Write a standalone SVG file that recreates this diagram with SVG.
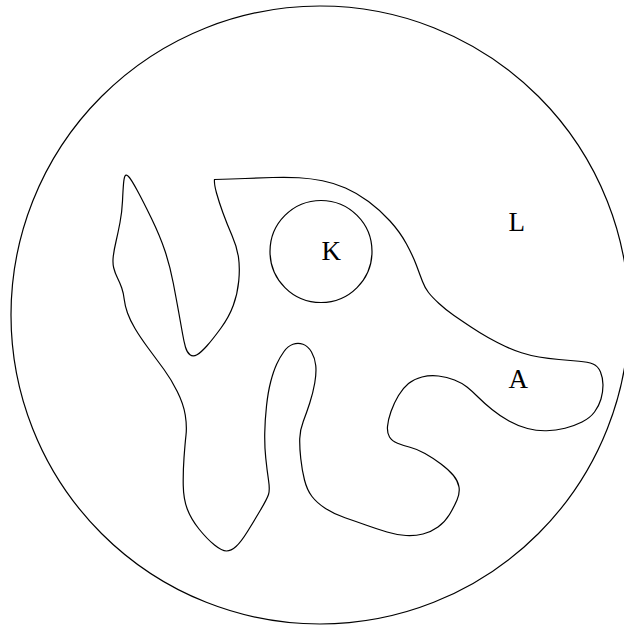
<svg xmlns="http://www.w3.org/2000/svg" width="624" height="627" viewBox="0 0 624 627">
<style>
.shape{fill:none;stroke:#000;stroke-width:1.2}
.lbl{font-family:"Liberation Serif","Times New Roman",serif;font-size:27px;fill:#000}
</style>
<rect width="624" height="627" fill="#fff"/>
<g id="region-L">
<circle class="shape" cx="320" cy="315" r="309"/>
<text class="lbl" x="508.5" y="231">L</text>
</g>
<g id="region-A">
<path class="shape" d="M214.5 179.5 Q232 179 245 178.5 Q258 178 272.5 177.5 Q287 177 299 177.75 Q311 178.5 322.5 180.75 Q334 183 345.5 188 Q357 193 368.5 201.5 Q380 210 390 221 Q400 232 406.5 244 Q413 256 416.5 265.5 Q420 275 422.5 281.5 Q425 288 428.5 292.5 Q432 297 439 303.5 Q446 310 454 315.5 Q462 321 471 327 Q480 333 488.5 337.75 Q497 342.5 505 346.25 Q513 350 521.5 352.75 Q530 355.5 539 357 Q548 358.5 559 359.5 Q570 360.5 579 361.25 Q588 362 593 364 Q598 366 600.5 372 Q603 378 603 385 Q603 392 601 399 Q599 406 594.5 412 Q590 418 582 422 Q574 426 565 428.25 Q556 430.5 546.5 430.75 Q537 431 527.5 428.5 Q518 426 509 421 Q500 416 492 409.5 Q484 403 478 397 Q472 391 467 387 Q462 383 454.5 380 Q447 377 438.5 376 Q430 375 422 377 Q414 379 408.5 383.5 Q403 388 398.5 395.5 Q394 403 391 411.5 Q388 420 387.5 426.5 Q387 433 389.5 437 Q392 441 397.5 443.25 Q403 445.5 410 447.25 Q417 449 425 453.5 Q433 458 441 464 Q449 470 453.5 475.5 Q458 481 459 487 Q460 493 457 500 Q454 507 449.5 514.5 Q445 522 438 527 Q431 532 423 534 Q415 536 406 535.5 Q397 535 387 532 Q377 529 366.5 525.25 Q356 521.5 345 517.75 Q334 514 325.5 508.5 Q317 503 312 496.5 Q307 490 304.5 480 Q302 470 300.75 458.5 Q299.5 447 299.75 438.5 Q300 430 303.25 421.5 Q306.5 413 309.75 403 Q313 393 314.75 383 Q316.5 373 315.75 365.5 Q315 358 311.5 352 Q308 346 303 344.25 Q298 342.5 293 344.25 Q288 346 284 351.5 Q280 357 276.75 364 Q273.5 371 270.75 381.5 Q268 392 266.5 406 Q265 420 264.75 433 Q264.5 446 265.75 458 Q267 470 268.5 480 Q270 490 268.5 494.5 Q267 499 260.5 510 Q254 521 247.5 531.5 Q241 542 236 546.5 Q231 551 226.5 551 Q222 551 214.5 545 Q207 539 199 529 Q191 519 187.25 509 Q183.5 499 183.25 485.5 Q183 472 184 458 Q185 444 186 435 Q187 426 185.25 415 Q183.5 404 177.25 391.5 Q171 379 164 369.5 Q157 360 148.5 348.5 Q140 337 135 328.5 Q130 320 127.5 313 Q125 306 124.25 299.5 Q123.5 293 121.75 288 Q120 283 117.5 278 Q115 273 113.75 268 Q112.5 263 113.25 256.5 Q114 250 116 241.5 Q118 233 120 222.5 Q122 212 122.5 201 Q123 190 123.5 184 Q124 178 125 176 Q126 174 128.5 176.5 Q131 179 137 190 Q143 201 151.5 218.5 Q160 236 165 251 Q170 266 173.25 283 Q176.5 300 178.75 312.5 Q181 325 182.5 333.5 Q184 342 185.5 347.25 Q187 352.5 190 354.75 Q193 357 197 354.75 Q201 352.5 207 345.75 Q213 339 221 328 Q229 317 233.25 305.5 Q237.5 294 238.75 281 Q240 268 238.5 257.5 Q237 247 232 235.5 Q227 224 223 213 Q219 202 216.5 193 Q214 184 214.5 179.5 Z"/>
<text class="lbl" x="508.5" y="388">A</text>
</g>
<g id="region-K">
<circle class="shape" cx="321" cy="251.5" r="51"/>
<text class="lbl" x="321.5" y="259.5">K</text>
</g>
<g id="connectors"/>
</svg>
